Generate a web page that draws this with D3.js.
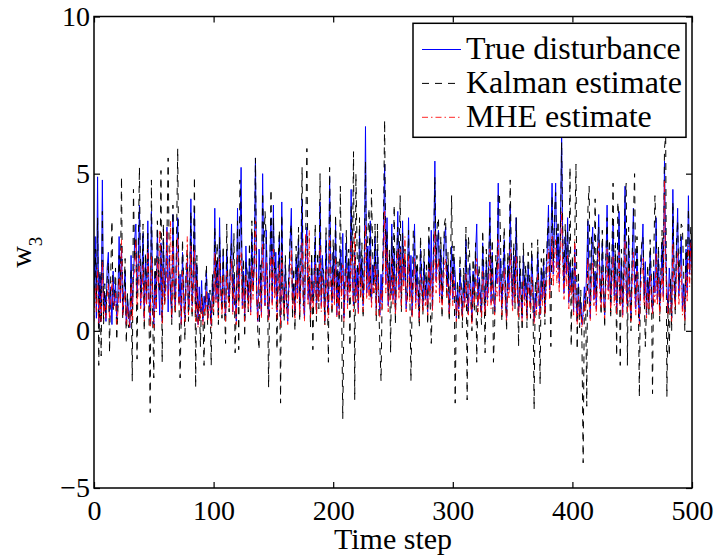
<!DOCTYPE html>
<html>
<head>
<meta charset="utf-8">
<script src="https://cdn.jsdelivr.net/npm/d3@7"></script>
<style>
  html, body { margin: 0; padding: 0; background: #fff; }
  svg text { font-family: "Liberation Serif", "Times New Roman", Times, serif; fill: #000; }
</style>
</head>
<body>
<svg id="chart" width="721" height="560"></svg>
<script>
// time steps run 0..500, one value per step
const trueDist = [
  1.0,3.0,0.4,4.9,0.1,1.8,0.3,4.8,0.5,1.2,
  0.3,2.0,2.5,0.6,1.4,0.2,1.9,0.8,1.5,0.4,
  1.1,3.0,0.9,2.7,0.5,1.3,1.9,0.2,1.0,0.6,
  0.1,2.4,0.7,1.6,2.9,3.4,1.2,2.1,4.0,0.8,
  1.7,3.1,0.4,2.2,0.9,3.5,1.1,0.3,3.8,1.4,
  0.2,1.9,0.7,3.2,1.5,0.5,2.8,0.3,2.9,1.0,
  1.8,3.3,0.6,2.4,1.2,0.4,3.7,1.6,0.8,2.5,
  3.6,0.9,1.8,0.2,2.5,1.1,0.4,1.7,2.2,0.6,
  1.3,4.2,0.8,1.5,3.9,0.5,2.1,0.2,1.4,0.6,
  1.6,0.3,1.1,0.7,1.9,0.4,1.2,0.9,0.2,1.5,
  0.8,3.9,1.0,2.2,0.5,3.6,1.3,0.7,2.4,1.1,
  0.4,2.6,1.5,0.9,2.0,3.4,0.6,1.8,1.2,0.3,
  3.9,1.0,2.6,5.2,0.8,1.9,0.4,2.7,1.5,0.9,
  2.3,0.6,3.1,1.4,2.0,5.5,1.1,0.3,2.6,1.7,
  0.5,5.0,2.0,0.8,3.2,1.3,0.4,2.2,3.6,0.9,
  4.0,1.2,2.5,0.6,1.8,3.0,0.2,4.1,1.4,0.7,
  2.1,1.0,0.3,1.6,2.8,3.9,0.9,1.5,0.5,2.3,
  1.2,2.9,0.7,1.8,4.2,1.1,0.4,2.6,3.3,1.0,
  1.7,0.5,2.2,0.9,1.4,3.0,0.6,2.0,1.1,4.1,
  0.8,2.4,1.5,0.3,2.9,1.2,0.6,4.9,1.8,0.9,
  2.5,1.0,3.4,0.5,1.9,0.7,2.6,1.3,3.1,0.4,
  1.6,2.8,0.9,2.2,1.4,4.5,1.7,0.8,2.5,1.1,
  2.0,0.6,3.2,1.4,2.3,0.8,1.9,6.5,1.2,2.7,
  1.3,3.5,0.9,2.1,1.6,3.0,0.7,2.6,1.4,0.5,
  1.8,0.9,2.8,5.3,1.5,3.6,0.8,2.2,1.2,3.4,
  1.0,2.5,0.6,1.9,3.8,1.3,2.7,0.9,3.5,1.6,
  2.2,0.7,1.4,3.6,1.1,2.4,0.5,1.8,3.4,0.9,
  2.0,1.2,0.4,2.6,1.5,0.8,2.2,1.0,1.7,0.6,
  2.9,1.3,3.2,0.7,2.4,5.4,1.6,2.8,3.2,1.1,
  2.6,0.9,1.8,3.0,3.3,1.4,2.1,0.6,1.5,2.7,
  1.0,2.3,1.8,0.4,1.3,0.7,2.0,1.1,0.5,1.6,
  0.9,2.9,1.2,0.6,2.1,1.5,0.3,1.9,1.0,2.4,
  3.4,0.8,1.7,1.2,0.5,2.8,1.4,0.7,2.2,1.0,
  1.8,4.1,0.9,2.5,1.3,0.6,2.0,1.5,4.7,1.1,
  2.3,0.7,1.6,2.9,1.0,0.4,2.1,1.3,4.0,1.8,
  0.8,2.4,1.1,3.6,1.5,0.6,2.0,1.2,0.4,2.4,
  1.0,1.7,0.5,2.1,1.3,0.8,2.4,1.5,0.3,1.2,
  0.7,2.5,1.4,0.5,1.9,1.0,2.2,0.6,1.6,2.6,
  4.0,1.3,2.8,4.7,1.8,3.3,4.7,2.0,3.1,1.5,
  3.4,6.2,2.5,1.2,3.0,1.8,3.6,0.9,2.2,1.4,
  2.0,0.6,2.7,1.1,0.3,1.5,0.5,0.9,0.2,0.6,
  1.4,0.8,2.1,3.5,1.2,0.4,2.6,3.3,1.0,1.9,
  0.7,2.3,3.7,1.5,0.9,2.8,1.2,0.5,2.0,4.0,
  1.3,2.5,0.8,1.9,3.5,1.1,2.4,0.6,1.7,3.8,
  1.0,2.2,0.5,1.6,4.6,1.4,0.8,2.9,1.2,0.4,
  2.1,3.9,1.5,0.7,2.6,1.1,0.3,1.8,2.4,3.4,
  1.0,2.2,0.5,1.7,0.9,2.5,1.3,0.6,1.9,1.2,
  3.6,1.0,2.3,0.7,1.5,2.8,1.1,5.4,2.5,1.4,
  0.6,2.0,1.3,0.4,4.5,1.6,0.9,2.4,3.9,1.1,
  2.0,3.0,0.7,1.5,0.4,2.6,1.2,4.3,1.8,2.9,
  2.0
];

const kalmanEst = [
  0.8,2.6,0.9,3.6,-1.1,1.9,-0.8,3.8,0.2,1.5,
  0.5,1.6,2.2,-0.7,1.8,3.5,0.6,1.2,2.0,-0.3,
  0.7,2.4,1.3,4.9,0.4,1.0,2.3,-0.4,1.2,0.1,
  0.3,2.0,-1.6,4.5,2.2,3.0,-0.9,2.6,5.2,1.1,
  1.3,3.4,0.0,2.5,1.2,3.1,0.5,-2.6,4.8,0.6,
  -1.5,2.4,1.0,3.5,1.7,1.2,5.1,-1.0,3.4,0.8,
  1.4,3.0,5.5,2.0,1.6,0.2,4.0,1.1,0.5,2.9,
  5.8,1.2,-1.5,0.6,2.9,1.5,-0.3,2.0,2.6,0.3,
  1.6,3.8,0.4,2.0,4.9,-1.8,2.4,0.3,1.0,-0.5,
  1.2,0.6,-1.1,1.4,2.1,0.2,0.9,1.3,-1.1,1.8,
  0.5,3.3,1.4,2.8,0.2,3.0,1.6,0.4,2.7,0.9,
  -0.4,3.4,1.2,0.6,2.3,2.8,1.0,3.1,-0.7,0.8,
  3.5,-0.6,4.8,3.9,1.2,2.3,-0.2,2.2,1.9,0.6,
  2.8,1.0,3.5,1.2,2.5,5.5,1.5,-0.1,-0.6,2.1,
  0.9,4.4,2.6,3.8,2.9,1.6,-1.8,1.9,4.5,1.2,
  3.6,1.8,2.0,-0.6,2.2,3.2,-2.3,3.7,1.1,0.3,
  2.4,0.7,0.8,1.9,3.1,3.4,0.4,2.0,0.0,2.7,
  1.5,3.3,0.3,2.4,5.2,0.8,1.0,3.0,5.8,1.4,
  2.0,0.1,2.5,-0.6,1.8,3.4,0.3,2.5,0.7,5.0,
  1.1,2.0,1.9,0.2,3.3,1.5,-1.0,5.2,2.3,0.5,
  2.9,1.4,3.7,0.8,2.2,0.3,4.6,1.0,-2.8,0.7,
  1.9,3.2,1.3,2.6,-0.5,4.0,2.2,5.7,-2.2,5.0,
  2.5,0.9,3.6,1.0,2.8,0.4,2.3,5.4,1.6,3.1,
  3.9,1.0,4.5,2.5,1.2,3.4,0.3,3.4,0.9,-0.4,
  -1.6,1.3,3.3,6.7,2.0,3.2,1.1,2.6,-0.7,3.0,
  1.4,4.0,0.2,2.3,3.3,1.8,4.3,0.6,3.1,2.0,
  2.6,1.1,1.0,3.2,1.5,-1.6,0.9,3.2,2.9,1.2,
  2.4,1.6,0.1,3.0,1.9,0.5,2.6,1.3,2.1,0.2,
  3.3,1.0,-0.4,1.1,2.8,4.9,2.0,3.4,3.6,1.5,
  3.0,0.4,2.2,3.4,3.6,1.0,2.5,0.3,1.9,4.3,
  1.3,2.7,-2.3,0.8,1.6,0.3,2.4,1.5,0.1,2.0,
  1.2,3.3,-2.2,3.0,2.5,1.1,0.0,2.3,0.6,2.8,
  -1.0,1.2,2.1,0.9,0.2,3.2,1.8,-0.7,2.6,1.4,
  2.2,3.6,1.3,2.9,-1.0,0.2,2.4,1.9,4.3,4.4,
  2.7,0.3,2.0,3.3,1.4,0.0,2.5,1.7,4.8,2.2,
  1.2,2.8,0.7,3.6,1.9,-0.5,2.4,1.6,0.0,2.8,
  1.4,2.1,0.1,2.5,1.7,0.4,2.8,1.1,-2.5,1.6,
  1.1,2.9,1.0,-1.7,2.3,1.4,2.6,0.2,2.0,3.0,
  3.6,1.7,-0.5,4.3,2.2,3.7,4.4,2.4,3.5,1.9,
  3.0,6.0,2.9,1.6,3.4,2.2,3.2,1.3,5.2,-0.5,
  2.4,1.0,3.1,5.3,-0.6,1.9,0.1,1.3,-0.4,-4.2,
  1.0,1.2,-2.4,3.9,4.6,0.8,3.0,2.9,1.4,4.2,
  1.1,2.7,3.3,1.9,0.5,3.2,1.6,0.1,2.4,3.6,
  1.7,2.9,0.4,2.3,4.7,1.5,2.8,-0.8,4.1,3.4,
  -1.1,2.6,0.9,2.0,4.2,4.7,-1.1,3.3,1.6,0.0,
  2.5,3.5,5.0,1.1,3.0,1.5,-2.1,2.2,2.8,3.0,
  1.4,-0.5,0.9,2.1,0.5,2.9,1.7,-2.0,2.3,4.3,
  3.2,1.4,2.7,0.3,1.9,3.2,1.5,5.8,6.2,-2.1,
  1.0,-0.8,1.7,0.0,4.1,2.0,0.5,2.8,3.5,1.5,
  2.4,3.4,3.3,1.9,0.0,3.0,1.6,3.9,2.2,3.3,
  2.4
];

const mheEst = [
  0.3,1.4,0.6,2.0,0.2,1.0,0.3,2.2,0.5,0.8,
  0.4,1.1,1.5,0.3,1.0,1.6,0.7,0.9,1.2,0.2,
  0.6,1.7,0.9,2.9,0.5,0.9,1.3,0.2,0.8,0.4,
  0.1,1.5,0.3,1.8,1.9,2.9,0.8,1.5,2.4,0.7,
  1.1,2.1,0.3,1.6,0.8,2.6,0.9,0.1,2.4,1.0,
  0.1,1.3,0.6,2.3,1.4,3.2,2.2,0.2,2.0,0.8,
  1.3,3.2,1.0,1.8,3.5,0.4,2.7,1.2,0.6,1.9,
  3.0,0.8,1.1,0.2,1.9,0.9,0.3,1.4,3.0,0.5,
  1.0,2.7,0.6,1.2,2.6,0.3,1.6,0.1,1.0,0.4,
  1.1,0.2,0.7,0.5,1.3,0.3,0.8,0.7,0.1,1.1,
  0.6,2.5,0.9,1.7,0.4,2.3,1.1,0.5,1.8,0.9,
  0.3,1.9,1.2,0.7,1.5,2.3,0.5,1.5,1.0,0.2,
  2.4,0.8,1.9,2.5,0.7,1.4,0.3,1.8,1.2,0.7,
  1.6,0.5,2.1,1.0,2.2,3.5,1.0,0.3,1.7,1.3,
  0.4,2.8,1.5,0.8,2.2,1.0,0.3,1.6,2.4,0.7,
  2.6,1.0,1.8,0.4,1.3,2.1,0.1,2.5,1.1,0.5,
  1.5,0.8,0.2,1.2,1.9,2.6,0.7,1.2,0.4,1.6,
  0.9,2.0,0.5,1.4,2.8,0.9,0.3,3.1,2.4,0.8,
  3.2,0.4,1.6,0.7,1.1,2.1,0.5,1.5,0.9,2.7,
  0.6,1.7,1.1,0.2,2.0,0.9,0.4,3.0,1.3,0.7,
  1.8,0.8,2.3,0.4,1.4,0.5,1.9,1.0,2.1,0.3,
  1.2,2.0,0.7,1.6,1.1,2.9,1.3,0.6,3.1,0.9,
  1.5,0.5,2.2,1.1,1.7,0.6,1.4,3.4,1.0,1.9,
  1.0,2.4,0.7,1.5,1.2,2.1,0.5,1.8,1.1,0.4,
  1.3,0.7,2.0,3.8,1.2,2.6,0.6,1.6,1.0,2.3,
  0.8,1.8,0.5,1.4,2.6,1.0,2.6,0.7,2.3,1.3,
  3.0,0.6,1.1,2.4,0.9,1.7,0.4,1.4,2.3,0.7,
  1.5,0.9,0.3,1.8,1.2,0.6,1.6,0.8,1.3,0.5,
  2.0,1.0,2.2,0.6,1.7,3.2,1.2,2.0,2.3,0.9,
  1.8,0.7,1.3,2.1,2.3,1.1,1.5,0.5,1.1,1.9,
  0.8,1.6,1.3,0.3,1.0,0.5,1.4,0.9,0.4,1.2,
  0.7,1.8,0.9,0.5,1.5,1.1,0.2,1.4,0.8,1.7,
  2.3,0.6,1.3,0.9,0.4,1.9,1.0,0.5,1.6,0.8,
  1.3,2.6,0.7,1.8,1.0,0.5,1.4,1.1,2.9,0.9,
  1.6,0.5,1.2,2.0,0.8,0.3,1.5,1.0,2.6,1.3,
  0.6,1.7,0.9,2.4,1.1,0.4,1.4,0.9,0.3,1.6,
  0.8,1.2,0.4,1.5,1.0,0.6,1.7,1.1,0.2,0.9,
  0.5,1.8,1.0,0.4,1.4,0.8,1.6,0.5,1.2,1.9,
  2.6,1.0,2.0,3.0,1.4,2.3,2.9,1.5,2.2,1.2,
  2.4,3.8,1.9,1.0,2.2,1.4,2.4,0.7,1.7,1.1,
  1.5,0.5,2.9,0.8,0.2,1.1,0.4,0.7,0.1,0.4,
  1.0,0.6,1.5,2.3,0.9,0.3,1.8,2.2,0.8,1.4,
  0.5,1.7,2.8,1.1,0.7,1.9,0.9,0.4,1.4,2.6,
  1.0,1.8,0.6,1.4,2.4,0.8,1.7,0.5,1.3,2.5,
  0.8,1.6,0.4,1.2,2.9,1.1,0.6,2.0,0.9,0.3,
  1.5,2.5,1.1,0.5,1.9,0.9,0.2,1.3,1.7,2.3,
  0.8,1.6,0.4,1.2,0.7,1.8,1.0,0.5,1.4,0.9,
  2.5,0.8,1.7,0.5,1.1,2.0,0.9,4.8,2.0,1.0,
  0.5,1.5,1.0,0.3,2.8,1.2,0.7,1.7,2.5,0.8,
  1.5,2.1,0.5,1.1,0.3,1.8,0.9,2.7,1.4,2.8,
  1.5
];

const seriesNames = ["True disturbance", "Kalman estimate", "MHE estimate"];
const xTicks = [0, 100, 200, 300, 400, 500];
const yTicks = [-5, 0, 5, 10];

const margin = {top: 16.5, right: 29, bottom: 72, left: 94};
const width = 721 - margin.left - margin.right;
const height = 560 - margin.top - margin.bottom;
const fontSize = 28;
const serif = '"Liberation Serif", "Times New Roman", Times, serif';

const svg = d3.select("#chart")
  .append("g")
  .attr("transform", "translate(" + margin.left + "," + margin.top + ")");

const x = d3.scaleLinear().domain([0, 500]).range([0, width]);
const y = d3.scaleLinear().domain([-5, 10]).range([height, 0]);

svg.append("clipPath").attr("id", "plotClip")
  .append("rect").attr("width", width).attr("height", height);

// lines, drawn in the same order as the legend
const styles = [
  {data: trueDist, color: "#0000ff", dash: null, opacity: 1},
  {data: kalmanEst, color: "#000000", dash: "7,6", opacity: 1},
  {data: mheEst, color: "#ff0000", dash: "6,3,1.5,3", opacity: 0.85}
];

const line = d3.line()
  .x((d, i) => x(i))
  .y(d => y(d));

const plot = svg.append("g").attr("clip-path", "url(#plotClip)");
styles.forEach(s => {
  plot.append("path")
    .datum(s.data)
    .attr("fill", "none")
    .attr("stroke", s.color)
    .attr("stroke-width", 1)
    .attr("stroke-opacity", s.opacity)
    .attr("stroke-dasharray", s.dash)
    .attr("d", line);
});

// axes, matlab style: ticks inside on all four sides
const tickLen = 6;
svg.append("g")
  .attr("transform", "translate(0," + height + ")")
  .call(d3.axisBottom(x).tickValues(xTicks).tickSizeInner(-tickLen).tickSizeOuter(0).tickPadding(12));
svg.append("g")
  .call(d3.axisLeft(y).tickValues(yTicks).tickSizeInner(-tickLen).tickSizeOuter(0).tickPadding(4));
svg.append("g")
  .call(d3.axisTop(x).tickValues(xTicks).tickSizeInner(-tickLen).tickSizeOuter(0).tickFormat(""));
svg.append("g")
  .attr("transform", "translate(" + width + ",0)")
  .call(d3.axisRight(y).tickValues(yTicks).tickSizeInner(-tickLen).tickSizeOuter(0).tickFormat(""));

svg.selectAll(".domain").remove();
svg.selectAll(".tick line").attr("stroke", "#000").attr("stroke-width", 1.2);
svg.selectAll(".tick text")
  .attr("font-family", null)
  .attr("font-size", null)
  .style("font-family", serif)
  .style("font-size", fontSize + "px")
  .attr("fill", "#000");

svg.append("rect")
  .attr("width", width)
  .attr("height", height)
  .attr("fill", "none")
  .attr("stroke", "#000")
  .attr("stroke-width", 1.5);

// axis labels
svg.append("text")
  .attr("x", width / 2)
  .attr("y", 549 - margin.top)
  .attr("text-anchor", "middle")
  .style("font-family", serif)
  .style("font-size", "30px")
  .text("Time step");

const yLabel = svg.append("text")
  .attr("transform", "translate(" + (-63) + "," + (height / 2) + ") rotate(-90)")
  .attr("text-anchor", "middle")
  .style("font-family", serif)
  .style("font-size", "30px");
yLabel.append("tspan").text("w");
yLabel.append("tspan")
  .attr("dy", 11)
  .style("font-size", "19px")
  .text("3");

// legend
const legend = svg.append("g")
  .attr("transform", "translate(" + (413 - margin.left) + "," + (23.3 - margin.top) + ")");
legend.append("rect")
  .attr("width", 273)
  .attr("height", 114)
  .attr("fill", "#fff")
  .attr("stroke", "#000")
  .attr("stroke-width", 1.5);

const rowBase = [36.2, 70.1, 104];
styles.forEach((s, i) => {
  legend.append("line")
    .attr("x1", 9).attr("x2", 48)
    .attr("y1", rowBase[i] - 10).attr("y2", rowBase[i] - 10)
    .attr("stroke", s.color)
    .attr("stroke-opacity", s.opacity)
    .attr("stroke-width", 1)
    .attr("stroke-dasharray", s.dash);
  legend.append("text")
    .attr("x", 53)
    .attr("y", rowBase[i])
    .style("font-family", serif)
    .style("font-size", "32px")
    .text(seriesNames[i]);
});
</script>
</body>
</html>
